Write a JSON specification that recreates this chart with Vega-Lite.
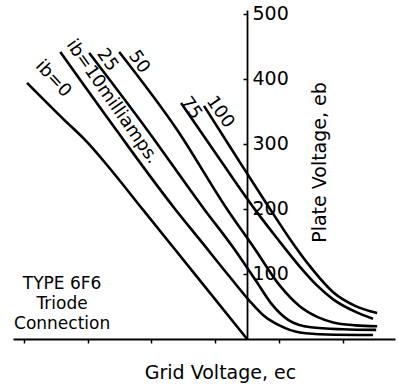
{
  "$schema": "https://vega.github.io/schema/vega-lite/v6.json",
  "width": 382,
  "height": 329,
  "autosize": "none",
  "padding": {"left": 13, "top": 10, "right": 3, "bottom": 48},
  "background": "white",
  "config": {"view": {"stroke": null}, "font": "DejaVu Sans"},
  "datasets": {
    "curves": [
      {"curve": "0", "g": -69.0, "p": 393.8},
      {"curve": "0", "g": -58.0, "p": 340},
      {"curve": "0", "g": -50.0, "p": 302},
      {"curve": "0", "g": -44.0, "p": 268},
      {"curve": "0", "g": -32.6, "p": 198.5},
      {"curve": "0", "g": -16.0, "p": 97.5},
      {"curve": "0", "g": 0, "p": 0},
      {"curve": "10", "g": -58.6, "p": 441.5},
      {"curve": "10", "g": -41.4, "p": 324},
      {"curve": "10", "g": -22.6, "p": 200},
      {"curve": "10", "g": -14.7, "p": 152},
      {"curve": "10", "g": -5, "p": 93},
      {"curve": "10", "g": 0.9, "p": 58},
      {"curve": "10", "g": 5, "p": 37},
      {"curve": "10", "g": 10.3, "p": 20.5},
      {"curve": "10", "g": 16.6, "p": 10},
      {"curve": "10", "g": 25, "p": 7},
      {"curve": "10", "g": 39.5, "p": 6.2},
      {"curve": "25", "g": -49.5, "p": 440},
      {"curve": "25", "g": -31.3, "p": 321.5},
      {"curve": "25", "g": -13.5, "p": 200},
      {"curve": "25", "g": -4.4, "p": 141},
      {"curve": "25", "g": 3, "p": 88},
      {"curve": "25", "g": 8, "p": 52},
      {"curve": "25", "g": 13, "p": 29},
      {"curve": "25", "g": 20, "p": 18},
      {"curve": "25", "g": 30, "p": 15},
      {"curve": "25", "g": 40.5, "p": 14},
      {"curve": "50", "g": -40.1, "p": 441.5},
      {"curve": "50", "g": -21.9, "p": 321.5},
      {"curve": "50", "g": -6.3, "p": 200},
      {"curve": "50", "g": 2.5, "p": 138},
      {"curve": "50", "g": 10.3, "p": 82},
      {"curve": "50", "g": 16.6, "p": 50},
      {"curve": "50", "g": 22, "p": 34},
      {"curve": "50", "g": 27, "p": 25.5},
      {"curve": "50", "g": 34, "p": 21},
      {"curve": "50", "g": 40.8, "p": 19.5},
      {"curve": "75", "g": -20.7, "p": 363},
      {"curve": "75", "g": -8.5, "p": 276},
      {"curve": "75", "g": 2.5, "p": 199},
      {"curve": "75", "g": 9.4, "p": 155},
      {"curve": "75", "g": 16.6, "p": 111},
      {"curve": "75", "g": 22, "p": 82},
      {"curve": "75", "g": 27, "p": 61},
      {"curve": "75", "g": 33.9, "p": 42},
      {"curve": "75", "g": 39.5, "p": 31},
      {"curve": "100", "g": -13.5, "p": 358.5},
      {"curve": "100", "g": -2.8, "p": 276},
      {"curve": "100", "g": 7.2, "p": 200},
      {"curve": "100", "g": 13, "p": 157},
      {"curve": "100", "g": 19.7, "p": 112},
      {"curve": "100", "g": 27, "p": 72},
      {"curve": "100", "g": 33.9, "p": 51},
      {"curve": "100", "g": 40.8, "p": 40}
    ],
    "labels": [
      {"label": "ib=10milliamps.", "g": -42.3, "p": 364.6},
      {"label": "25", "g": -43.9, "p": 429},
      {"label": "50", "g": -33.9, "p": 426},
      {"label": "75", "g": -17.6, "p": 355},
      {"label": "100", "g": -8.5, "p": 349}
    ],
    "zero": [
      {"label": "ib=0", "g": -60.8, "p": 400}
    ],
    "note": [
      {"label": "TYPE 6F6\nTriode\nConnection", "g": -58, "p": 84}
    ]
  },
  "layer": [
    {
      "data": {"name": "curves"},
      "mark": {"type": "line", "color": "black", "strokeWidth": 2.6, "interpolate": "monotone"},
      "encoding": {
        "x": {
          "field": "g", "type": "quantitative",
          "scale": {"domain": [-73.4, 46.4], "nice": false, "zero": false},
          "axis": {
            "orient": "bottom",
            "values": [-70, -60, -50, -40, -30, -20, -10, 0, 10, 20, 30, 40],
            "labelExpr": "datum.value % 20 == 0 ? '' + datum.value : ''",
            "grid": false,
            "domainColor": "black", "domainWidth": 2,
            "tickColor": "black", "tickSize": 4, "tickWidth": 1.5,
            "labelFontSize": 18, "labelColor": "black", "labelPadding": 2,
            "title": "Grid Voltage, ec",
            "titleFontSize": 19, "titleFontWeight": "normal", "titleColor": "black",
            "titleX": 207, "titleY": 33, "titleAlign": "center", "titleBaseline": "middle"
          }
        },
        "y": {
          "field": "p", "type": "quantitative",
          "scale": {"domain": [0, 506], "nice": false},
          "axis": {
            "orient": "right", "offset": -148,
            "values": [100, 200, 300, 400, 500],
            "grid": false,
            "domainColor": "black", "domainWidth": 1.8,
            "tickColor": "black", "tickSize": -4, "tickWidth": 1.5,
            "labelFontSize": 19, "labelColor": "black", "labelPadding": 9,
            "title": "Plate Voltage, eb",
            "titleFontSize": 19, "titleFontWeight": "normal", "titleColor": "black",
            "titleAngle": -90, "titleX": 72, "titleY": 152, "titleAlign": "center", "titleBaseline": "middle"
          }
        },
        "detail": {"field": "curve"}
      }
    },
    {
      "data": {"name": "labels"},
      "mark": {"type": "text", "angle": 55, "fontSize": 18, "color": "black", "align": "center", "baseline": "middle"},
      "encoding": {
        "x": {"field": "g", "type": "quantitative"},
        "y": {"field": "p", "type": "quantitative"},
        "text": {"field": "label"}
      }
    },
    {
      "data": {"name": "zero"},
      "mark": {"type": "text", "angle": 47, "fontSize": 18, "color": "black", "align": "center", "baseline": "middle"},
      "encoding": {
        "x": {"field": "g", "type": "quantitative"},
        "y": {"field": "p", "type": "quantitative"},
        "text": {"field": "label"}
      }
    },
    {
      "data": {"name": "note"},
      "mark": {"type": "text", "fontSize": 17, "color": "black", "align": "center", "baseline": "middle", "lineBreak": "\n", "lineHeight": 20},
      "encoding": {
        "x": {"field": "g", "type": "quantitative"},
        "y": {"field": "p", "type": "quantitative"},
        "text": {"field": "label"}
      }
    }
  ]
}
